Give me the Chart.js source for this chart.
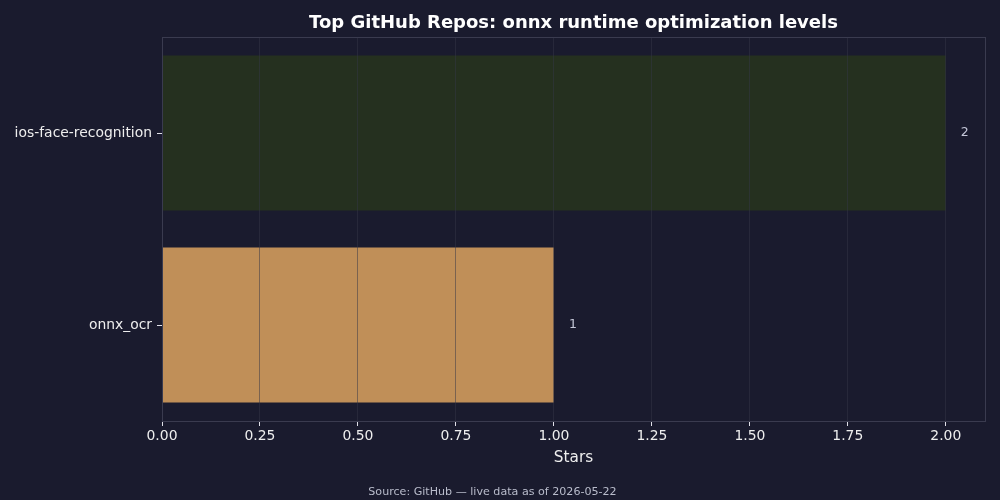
<!DOCTYPE html>
<html>
<head>
<meta charset="utf-8">
<script src="https://cdn.jsdelivr.net/npm/chart.js@4.4.1/dist/chart.umd.min.js"></script>
<style>
  html, body { margin: 0; padding: 0; background: #1a1b2e; }
  #wrap { width: 1000px; height: 500px; position: relative; }
</style>
</head>
<body>
<div id="wrap"><canvas id="c" width="1000" height="500"></canvas></div>
<script>
const categories = ["ios-face-recognition", "onnx_ocr"];
const stars = [2, 1];
const barColors = ["#25301f", "#c08f58"];
const xTicks = [0, 0.25, 0.5, 0.75, 1.0, 1.25, 1.5, 1.75, 2.0];
const titleText = "Top GitHub Repos: onnx runtime optimization levels";
const xTitle = "Stars";
const footerText = "Source: GitHub \u2014 live data as of 2026-05-22";

const FONT = "'DejaVu Sans', sans-serif";
const gridColor = "rgba(52,53,70,0.5)";

const valueLabels = {
  id: 'valueLabels',
  afterDatasetsDraw(chart) {
    const ctx = chart.ctx;
    const meta = chart.getDatasetMeta(0);
    ctx.save();
    ctx.font = "12.5px " + FONT;
    ctx.fillStyle = "#c4c7d8";
    ctx.textAlign = "left";
    ctx.textBaseline = "middle";
    meta.data.forEach((bar, i) => {
      ctx.fillText(String(stars[i]), bar.x + 15, bar.y);
    });
    ctx.restore();
  }
};

const frame = {
  id: 'frame',
  afterDraw(chart) {
    const a = chart.chartArea;
    const ctx = chart.ctx;
    ctx.save();
    ctx.strokeStyle = "#3a3b4f";
    ctx.lineWidth = 1;
    ctx.strokeRect(Math.round(a.left) + 0.5, Math.round(a.top) + 0.5, Math.round(a.right - a.left), Math.round(a.bottom - a.top));
    ctx.restore();
  }
};

new Chart(document.getElementById('c'), {
  type: 'bar',
  data: {
    labels: categories,
    datasets: [{
      data: stars,
      backgroundColor: barColors,
      borderWidth: 0,
      barPercentage: 0.807,
      categoryPercentage: 1.0
    }]
  },
  options: {
    indexAxis: 'y',
    responsive: false,
    animation: false,
    devicePixelRatio: 1,
    layout: { padding: { top: 0, right: 15, bottom: 0, left: 0 } },
    plugins: {
      legend: { display: false },
      tooltip: { enabled: false },
      title: {
        display: true,
        text: titleText,
        fullSize: false,
        color: "#ffffff",
        font: { family: FONT, size: 18, weight: 'bold', lineHeight: 1.2 },
        padding: { top: 12.6, bottom: 2.8 }
      },
      subtitle: {
        display: true,
        position: 'bottom',
        text: footerText,
        color: "#b9bccb",
        font: { family: FONT, size: 11.1, lineHeight: 1.2 },
        padding: { top: 11.08, bottom: 1.2 }
      }
    },
    scales: {
      x: {
        type: 'linear',
        min: 0,
        max: 2.1,
        afterBuildTicks(scale) { scale.ticks = xTicks.map(v => ({ value: v })); },
        afterFit(scale) { scale.height = 53.4; },
        border: { display: false },
        grid: { color: gridColor, tickColor: "#e0e0e8", tickLength: 5, lineWidth: 1, z: 1 },
        ticks: {
          color: "#eeeeee",
          padding: 2,
          font: { family: FONT, size: 13.9, lineHeight: 1.2 },
          callback: (v) => Number(v).toFixed(2)
        },
        title: {
          display: true,
          text: xTitle,
          color: "#eeeeee",
          font: { family: FONT, size: 15.3, lineHeight: 1.2 },
          padding: { top: 4, bottom: 7.6 }
        }
      },
      y: {
        afterFit(scale) { scale.width = 162; },
        border: { display: false },
        grid: { display: true, drawOnChartArea: false, offset: false, tickColor: "#e0e0e8", tickLength: 5 },
        ticks: {
          color: "#eeeeee",
          padding: 5,
          font: { family: FONT, size: 13.9, lineHeight: 1.2 }
        }
      }
    }
  },
  plugins: [valueLabels, frame, {
    id: 'bg',
    beforeDraw(chart) {
      const ctx = chart.ctx;
      ctx.save();
      ctx.fillStyle = "#1a1b2e";
      ctx.fillRect(0, 0, chart.width, chart.height);
      ctx.restore();
    }
  }]
});
</script>
</body>
</html>
